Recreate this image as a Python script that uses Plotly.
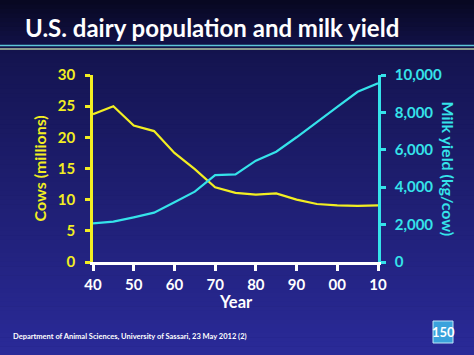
import plotly.graph_objects as go

years = [1940, 1945, 1950, 1955, 1960, 1965, 1970, 1975, 1980, 1985, 1990, 1995, 2000, 2005, 2010]
cows_millions = [23.7, 25.0, 21.9, 21.0, 17.5, 14.9, 12.0, 11.1, 10.8, 11.0, 10.0, 9.3, 9.1, 9.0, 9.1]
milk_yield = [2070, 2160, 2390, 2640, 3190, 3760, 4650, 4690, 5420, 5900, 6670, 7500, 8300, 9100, 9560]
x_tickvals = [1940, 1950, 1960, 1970, 1980, 1990, 2000, 2010]
x_ticktext = ["40", "50", "60", "70", "80", "90", "00", "10"]
y1_ticks = [0, 5, 10, 15, 20, 25, 30]
y2_ticks = [0, 2000, 4000, 6000, 8000, 10000]
y2_ticktext = ["0", "2,000", "4,000", "6,000", "8,000", "10,000"]

W, H = 474, 355
L, R, T, B = 93, 378, 75, 262
YEL = "#f2ee22"
CYA = "#35e3ea"
FONT = "Lato"

def px(x):
    return (x - L) / (R - L)

def py(y):
    return (B - y) / (B - T)

fig = go.Figure()
fig.add_trace(go.Scatter(x=years, y=cows_millions, mode="lines",
                         line=dict(color=YEL, width=2.2), yaxis="y", showlegend=False))
fig.add_trace(go.Scatter(x=years, y=milk_yield, mode="lines",
                         line=dict(color=CYA, width=2.2), yaxis="y2", showlegend=False))

# background gradient
shapes = []
n = 80
def lerp(a, b, t):
    return int(round(a + (b - a) * t))
top = (8, 8, 34)
mid = (20, 20, 80)
bot = (42, 42, 152)
for i in range(n):
    y0 = H * i / n
    y1 = H * (i + 1) / n + 0.6
    t = i / (n - 1)
    if t < 0.15:
        c = tuple(lerp(top[k], mid[k], t / 0.15) for k in range(3))
    else:
        c = tuple(lerp(mid[k], bot[k], (t - 0.15) / 0.85) for k in range(3))
    shapes.append(dict(type="rect", xref="paper", yref="paper", layer="below",
                       x0=px(0), x1=px(W), y0=py(y1), y1=py(y0),
                       line=dict(width=0), fillcolor="rgb(%d,%d,%d)" % c))
# title underlines
shapes.append(dict(type="line", xref="paper", yref="paper", layer="above",
                   x0=px(0), x1=px(W), y0=py(45.5), y1=py(45.5),
                   line=dict(color="#5cc6d8", width=1.5)))
shapes.append(dict(type="line", xref="paper", yref="paper", layer="above",
                   x0=px(0), x1=px(W), y0=py(49), y1=py(49),
                   line=dict(color="#8c9a8c", width=2)))
# logo box
shapes.append(dict(type="rect", xref="paper", yref="paper", layer="above",
                   x0=px(433), x1=px(453), y0=py(343), y1=py(321),
                   line=dict(color="#bfe6f7", width=1), fillcolor="#3aa2dc"))

annotations = [
    dict(text="<b>U.S. dairy population and milk yield</b>", x=px(23), y=py(27),
         xref="paper", yref="paper", xanchor="left", yanchor="middle", showarrow=False,
         font=dict(family=FONT, size=24, color="white")),
    dict(text="<b>Cows (millions)</b>", x=px(39), y=py(168.5), xref="paper", yref="paper",
         textangle=-90, showarrow=False, xanchor="center", yanchor="middle",
         font=dict(family=FONT, size=16, color=YEL)),
    dict(text="<b>Milk yield (kg/cow)</b>", x=px(448), y=py(168.5), xref="paper", yref="paper",
         textangle=90, showarrow=False, xanchor="center", yanchor="middle",
         font=dict(family=FONT, size=16, color=CYA)),
    dict(text="<b>Year</b>", x=px(236), y=py(302), xref="paper", yref="paper",
         showarrow=False, xanchor="center", yanchor="middle",
         font=dict(family=FONT, size=16.5, color="white")),
    dict(text="<b>Department of Animal Sciences, University of Sassari, 23 May 2012 (2)</b>",
         x=px(11), y=py(336), xref="paper", yref="paper", showarrow=False,
         xanchor="left", yanchor="middle", font=dict(family=FONT, size=7.5, color="white")),
    dict(text="<b>150</b>", x=px(443.5), y=py(332), xref="paper", yref="paper",
         showarrow=False, xanchor="center", yanchor="middle",
         font=dict(family=FONT, size=13, color="white")),
]

fig.update_layout(
    width=W, height=H,
    margin=dict(l=L, r=W - R, t=T, b=H - B, pad=0),
    paper_bgcolor="rgb(20,20,80)",
    plot_bgcolor="rgba(0,0,0,0)",
    shapes=shapes,
    annotations=annotations,
    showlegend=False,
    xaxis=dict(range=[1940, 2010], tickvals=x_tickvals, ticktext=x_ticktext,
               showgrid=False, zeroline=False, showline=True, linecolor="white", linewidth=2.5,
               ticks="outside", tickcolor="white", ticklen=6, tickwidth=2.5,
               ticklabelstandoff=1,
               tickfont=dict(family=FONT, size=15, color="white", weight="bold")),
    yaxis=dict(range=[0, 30], tickvals=y1_ticks, showgrid=False, zeroline=False,
               showline=True, linecolor=YEL, linewidth=2.5, ticks="outside", tickcolor=YEL,
               ticklen=5, tickwidth=2.5, ticklabelstandoff=7,
               tickfont=dict(family=FONT, size=15, color=YEL, weight="bold")),
    yaxis2=dict(range=[0, 10000], tickvals=y2_ticks, ticktext=y2_ticktext, overlaying="y",
                side="right", showgrid=False, zeroline=False, showline=True, linecolor=CYA,
                linewidth=2.5, ticks="outside", tickcolor=CYA, ticklen=5, tickwidth=2.5,
                ticklabelstandoff=6,
                tickfont=dict(family=FONT, size=15, color=CYA, weight="bold")),
)

fig.write_html("out.html", config={"displayModeBar": False},
               post_script="document.body.style.margin='0';document.body.style.overflow='hidden';")
